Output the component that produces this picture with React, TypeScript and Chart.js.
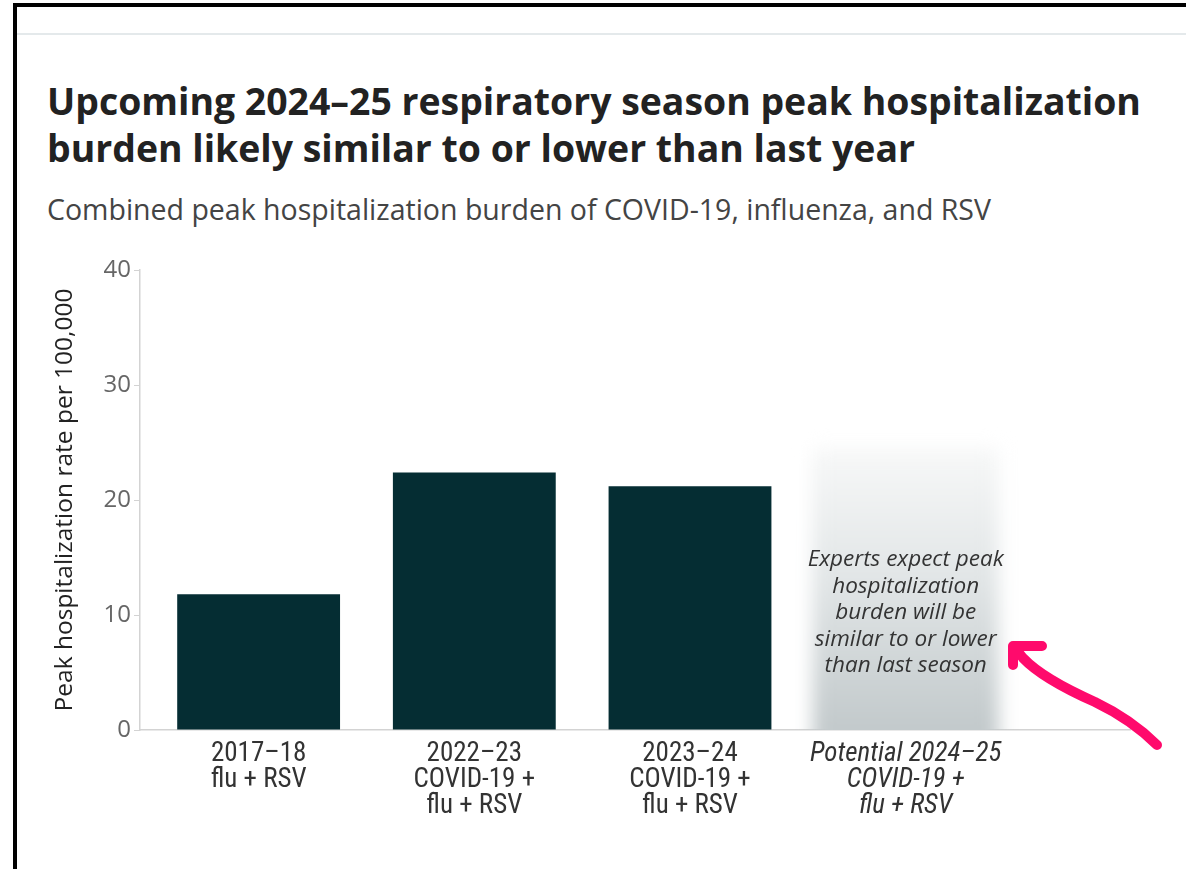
import React, { useEffect, useRef } from "react";
import { Chart, registerables } from "chart.js";

Chart.register(...registerables);

// Season labels (multi-line) and combined peak hospitalization rates per 100,000
const seasonLabels: string[][] = [
  ["2017–18", "flu + RSV"],
  ["2022–23", "COVID-19 +", "flu + RSV"],
  ["2023–24", "COVID-19 +", "flu + RSV"],
  ["Potential 2024–25", "COVID-19 +", "flu + RSV"],
];
const peakRates: (number | null)[] = [11.8, 22.4, 21.2, null];
const yTicks: number[] = [0, 10, 20, 30, 40];

// Projected season: shaded band height and centred note
const projectedIndex = 3;
const projectedBandTop = 24.5;
const projectedNoteAt = 10.2;
const projectedNote: string[] = [
  "Experts expect peak",
  "hospitalization",
  "burden will be",
  "similar to or lower",
  "than last season",
];

const BAR_COLOR = "#052d33";
const AXIS_COLOR = "#d3d3d3";
const SANS = "'Open Sans', Lato, 'Noto Sans', sans-serif";
const NARROW = "'Liberation Sans Narrow', 'Roboto Condensed', Roboto, sans-serif";

const projectionPlugin = {
  id: "projection",
  beforeDatasetsDraw(chart: any) {
    const { ctx, scales } = chart;
    const x = scales.x;
    const y = scales.y;
    const xc = x.getPixelForValue(projectedIndex);
    const top = y.getPixelForValue(projectedBandTop);
    const bottom = y.getPixelForValue(0);
    const half = 93;
    ctx.save();
    ctx.beginPath();
    ctx.rect(xc - 160, top - 40, 320, bottom - top + 40);
    ctx.clip();
    const g = ctx.createLinearGradient(0, top, 0, bottom);
    g.addColorStop(0, "rgba(247,248,248,1)");
    g.addColorStop(0.45, "rgba(226,230,231,1)");
    g.addColorStop(1, "rgba(194,201,203,1)");
    ctx.filter = "blur(9px)";
    ctx.fillStyle = g;
    ctx.fillRect(xc - half, top, half * 2, bottom - top + 30);
    ctx.restore();
  },
  afterDatasetsDraw(chart: any) {
    const { ctx, scales } = chart;
    const xc = scales.x.getPixelForValue(projectedIndex);
    const yc = scales.y.getPixelForValue(projectedNoteAt);
    const lh = 26.5;
    ctx.save();
    ctx.font = `italic 22.5px ${SANS}`;
    ctx.fillStyle = "#333333";
    ctx.textAlign = "center";
    ctx.textBaseline = "middle";
    const n = projectedNote.length;
    projectedNote.forEach((line, i) => {
      ctx.fillText(line, xc, yc + (i - (n - 1) / 2) * lh);
    });
    ctx.restore();
  },
};

function PeakChart() {
  const ref = useRef<HTMLCanvasElement | null>(null);
  useEffect(() => {
    if (!ref.current) return;
    const chart = new Chart(ref.current, {
      type: "bar",
      data: {
        datasets: [
          {
            data: peakRates.map((v, i) => ({ x: i, y: v })) as any,
            backgroundColor: BAR_COLOR,
            borderWidth: 0,
            barPercentage: 0.755,
            categoryPercentage: 1,
          },
        ],
      },
      options: {
        animation: false,
        responsive: false,
        maintainAspectRatio: false,
        layout: { padding: { left: 50, right: 56, top: 270, bottom: 0 } },
        plugins: {
          legend: { display: false },
          tooltip: { enabled: false },
        },
        scales: {
          x: {
            type: "linear",
            offset: false,
            min: -0.55,
            max: 4.04,
            afterBuildTicks: (s: any) => {
              s.ticks = seasonLabels.map((_, i) => ({ value: i }));
            },
            afterFit: (s: any) => {
              s.height = 139;
            },
            grid: { display: false },
            border: { display: true, color: AXIS_COLOR, width: 1.5 },
            ticks: {
              autoSkip: false,
              maxRotation: 0,
              padding: 3,
              color: "#333333",
              font: (c: any) => ({
                family: NARROW,
                size: 27,
                style: c.index === projectedIndex ? "italic" : "normal",
                lineHeight: 0.963,
              }),
              callback: (v: any) => seasonLabels[v as number] ?? "",
            },
          },
          y: {
            min: 0,
            max: 40,
            afterBuildTicks: (s: any) => {
              s.ticks = yTicks.map((v) => ({ value: v }));
            },
            afterFit: (s: any) => {
              s.width = 90;
            },
            grid: {
              drawOnChartArea: false,
              drawTicks: true,
              tickLength: 6,
              color: AXIS_COLOR,
            },
            border: { display: true, color: AXIS_COLOR, width: 1.5 },
            ticks: {
              padding: 3,
              color: "#666666",
              font: { family: SANS, size: 24 },
            },
            title: {
              display: true,
              text: "Peak hospitalization rate per 100,000",
              color: "#222222",
              font: { family: SANS, size: 24.5 },
              padding: { top: 0, bottom: 0 },
            },
          },
        },
      },
      plugins: [projectionPlugin],
    });
    return () => chart.destroy();
  }, []);
  return (
    <canvas
      ref={ref}
      width={1186}
      height={869}
      style={{ position: "absolute", left: 0, top: 0, width: 1186, height: 869 }}
    />
  );
}

export default function App() {
  return (
    <div
      style={{
        position: "fixed",
        left: 0,
        top: 0,
        width: 1186,
        height: 869,
        background: "#ffffff",
        overflow: "hidden",
        fontFamily: SANS,
      }}
    >
      {/* window frame */}
      <div style={{ position: "absolute", left: 13, top: 3, width: 1173, height: 4, background: "#000" }} />
      <div style={{ position: "absolute", left: 13, top: 3, width: 4, height: 866, background: "#000" }} />
      <div style={{ position: "absolute", left: 17, top: 33, width: 1169, height: 2, background: "#e4e9eb" }} />

      <div
        style={{
          position: "absolute",
          left: 47,
          top: 77,
          width: 1135,
          fontSize: 37.4,
          lineHeight: "47px",
          fontWeight: 700,
          color: "#222222",
          whiteSpace: "nowrap",
        }}
      >
        Upcoming 2024–25 respiratory season peak hospitalization
        <br />
        burden likely similar to or lower than last year
      </div>
      <div
        style={{
          position: "absolute",
          left: 47,
          top: 192,
          fontSize: 28.5,
          lineHeight: "34px",
          color: "#444444",
          whiteSpace: "nowrap",
        }}
      >
        Combined peak hospitalization burden of COVID-19, influenza, and RSV
      </div>

      <PeakChart />

      {/* hand-drawn pointer */}
      <svg
        width={1186}
        height={869}
        style={{ position: "absolute", left: 0, top: 0, pointerEvents: "none" }}
      >
        <g fill="none" stroke="#ff0a6c" strokeWidth={10} strokeLinecap="round" strokeLinejoin="round">
          <path d="M1157 745 C1140 728 1120 714 1095 702 C1068 690 1040 676 1023 658 L1015 648" />
          <path d="M1013 665 L1013 646 L1042 646" />
        </g>
      </svg>
    </div>
  );
}
